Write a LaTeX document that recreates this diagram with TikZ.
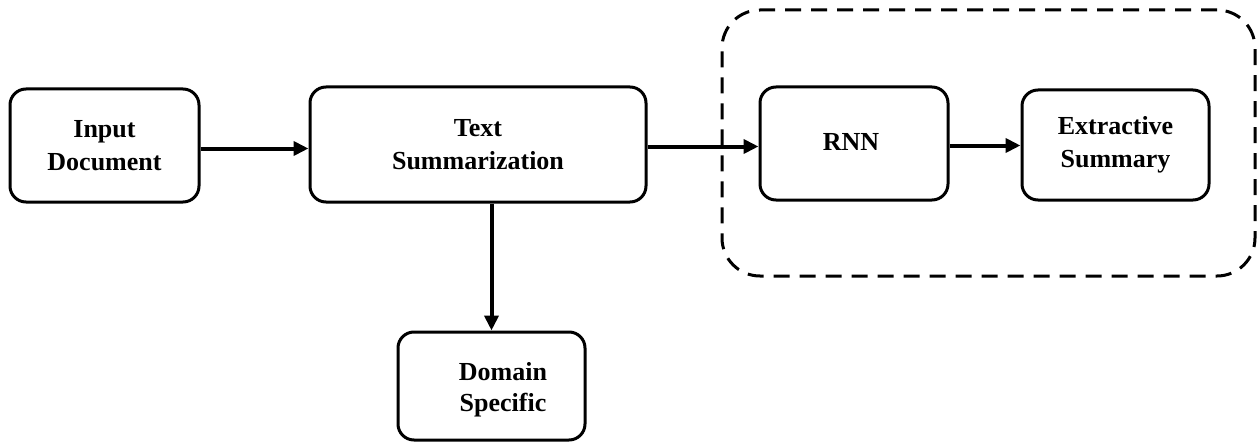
\documentclass[tikz,border=0pt]{standalone}
\usepackage{fontspec}
\setmainfont{Liberation Serif}
\usetikzlibrary{arrows.meta}
\begin{document}
\begin{tikzpicture}[x=1pt,y=-1pt,
  box/.style={draw=black, line width=3pt, rounded corners=16pt, fill=white, align=center,
    font=\bfseries\fontsize{26}{33}\selectfont, inner sep=0pt},
  lbl/.style={align=center, font=\bfseries\fontsize{26}{31}\selectfont, inner sep=0pt},
  conn/.style={line width=4pt, -{Triangle[length=15pt,width=14pt]}},
  grp/.style={draw=black, line width=3pt, dash pattern=on 16pt off 10pt, rounded corners=38pt}]
\useasboundingbox (0,0) rectangle (1259,444);
\node[grp, minimum width=533pt, minimum height=266pt] (grp) at (988.5,143) {};
\node[box, minimum width=189pt, minimum height=113pt] (inp) at (104.5,145.5) {Input\\Document};
\node[box, minimum width=336pt, minimum height=115pt] (ts) at (478,144.5) {Text\\Summarization};
\node[box, minimum width=188pt, minimum height=113pt] (rnn) at (854,143.5) {};
\node[lbl] (rnnt) at (851,142) {RNN};
\node[box, minimum width=187pt, minimum height=110pt] (ext) at (1115.5,145) {Extractive\\Summary};
\node[box, minimum width=187pt, minimum height=108pt] (dom) at (491.5,386) {};
\node[lbl] (domt) at (503,390) {Domain\\Specific};
\draw[conn] ([yshift=-3pt]inp.east) -- ([yshift=-3pt]inp.east -| ts.west);
\draw[conn] ([yshift=-2pt]ts.east) -- ([yshift=-2pt]ts.east -| rnn.west);
\draw[conn] ([yshift=-2pt]rnn.east) -- ([yshift=-2pt]rnn.east -| ext.west);
\draw[conn] (dom.north |- ts.south) -- (dom.north);
\end{tikzpicture}
\end{document}
